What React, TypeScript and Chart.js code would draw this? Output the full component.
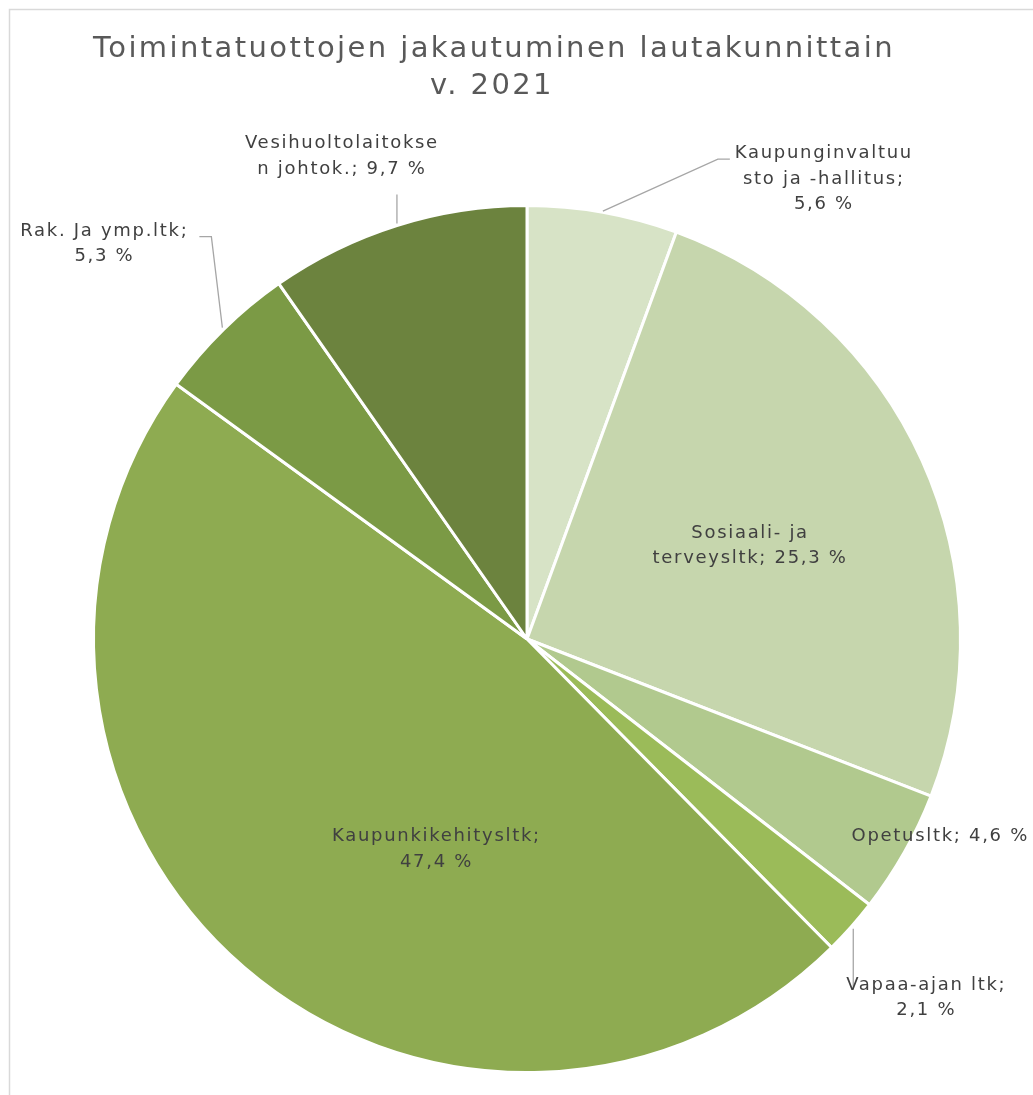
import React, { useEffect, useRef } from "react";
import { Chart, registerables } from "chart.js";

Chart.register(...registerables);

const TITLE_LINES = ["Toimintatuottojen jakautuminen lautakunnittain", "v. 2021"];
const CATEGORIES = [
  "Kaupunginvaltuusto ja -hallitus",
  "Sosiaali- ja terveysltk",
  "Opetusltk",
  "Vapaa-ajan ltk",
  "Kaupunkikehitysltk",
  "Rak. Ja ymp.ltk",
  "Vesihuoltolaitoksen johtok.",
];
const LABEL_LINES = [
  ["Kaupunginvaltuu", "sto ja -hallitus;", "5,6 %"],
  ["Sosiaali- ja", "terveysltk; 25,3 %"],
  ["Opetusltk; 4,6 %"],
  ["Vapaa-ajan ltk;", "2,1 %"],
  ["Kaupunkikehitysltk;", "47,4 %"],
  ["Rak. Ja ymp.ltk;", "5,3 %"],
  ["Vesihuoltolaitokse", "n johtok.; 9,7 %"],
];
const VALUES = [5.6, 25.3, 4.6, 2.1, 47.4, 5.3, 9.7];
const COLORS = ["#d7e3c6", "#c6d6ad", "#b1c98e", "#9bbb59", "#8eab51", "#7b9a45", "#6c833e"];

// label placement: anchor fraction of radius along mid-angle, text offset, leader polyline (relative to anchor)
type Place = { f: number; dx: number; dy: number; leader?: [number, number][] };
const PLACES: Place[] = [
  { f: 1, dx: 221, dy: -33, leader: [[0, -1], [115, -53], [127, -53]] },
  { f: 0.6, dx: -14, dy: 14 },
  { f: 1, dx: 36, dy: -16 },
  { f: 1, dx: 75, dy: 71, leader: [[2, 2], [2, 62]] },
  { f: 0.6, dx: 79, dy: 13 },
  { f: 1, dx: -119, dy: -86, leader: [[-1, -2], [-12, -93], [-24, -93]] },
  { f: 1, dx: -55, dy: -69, leader: [[0, -2], [0, -31]] },
];

const FONT = '"DejaVu Sans", Verdana, sans-serif';

const framePlugin = {
  id: "frame",
  beforeDraw(chart: any) {
    const ctx = chart.ctx;
    ctx.save();
    ctx.fillStyle = "#ffffff";
    ctx.fillRect(0, 0, chart.width, chart.height);
    ctx.strokeStyle = "#d9d9d9";
    ctx.lineWidth = 1.5;
    ctx.beginPath();
    ctx.moveTo(9.5, chart.height + 5);
    ctx.lineTo(9.5, 9.5);
    ctx.lineTo(chart.width + 5, 9.5);
    ctx.stroke();
    ctx.restore();
  },
};

const labelPlugin = {
  id: "sliceLabels",
  afterDraw(chart: any) {
    const ctx = chart.ctx;
    ctx.save();
    // title
    ctx.fillStyle = "#595959";
    ctx.font = `29px ${FONT}`;
    (ctx as any).letterSpacing = "2.4px";
    ctx.textAlign = "center";
    ctx.textBaseline = "middle";
    ctx.fillText(TITLE_LINES[0], 494, 49);
    ctx.fillText(TITLE_LINES[1], 492, 86);

    const meta = chart.getDatasetMeta(0);
    meta.data.forEach((arc: any, i: number) => {
      const { x, y, startAngle, endAngle, outerRadius } = arc.getProps(
        ["x", "y", "startAngle", "endAngle", "outerRadius"],
        true
      );
      const mid = (startAngle + endAngle) / 2;
      const p = PLACES[i];
      const ax = x + Math.cos(mid) * outerRadius * p.f;
      const ay = y + Math.sin(mid) * outerRadius * p.f;
      if (p.leader) {
        ctx.strokeStyle = "#a6a6a6";
        ctx.lineWidth = 1.3;
        ctx.beginPath();
        p.leader.forEach(([lx, ly], k) => {
          if (k === 0) ctx.moveTo(ax + lx, ay + ly);
          else ctx.lineTo(ax + lx, ay + ly);
        });
        ctx.stroke();
      }
      const lines = LABEL_LINES[i];
      const lh = 25.5;
      const cx = ax + p.dx;
      const cy = ay + p.dy;
      ctx.fillStyle = "#404040";
      ctx.font = `18px ${FONT}`;
      (ctx as any).letterSpacing = "1.7px";
      lines.forEach((t, k) => {
        ctx.fillText(t, cx, cy + (k - (lines.length - 1) / 2) * lh);
      });
    });
    ctx.restore();
  },
};

export default function App() {
  const ref = useRef<HTMLCanvasElement>(null);
  useEffect(() => {
    if (!ref.current) return;
    const chart = new Chart(ref.current, {
      type: "pie",
      data: {
        labels: CATEGORIES,
        datasets: [
          {
            data: VALUES,
            backgroundColor: COLORS,
            borderColor: "#ffffff",
            borderWidth: 3,
          },
        ],
      },
      options: {
        responsive: false,
        animation: false,
        layout: { padding: { left: 92, right: 71, top: 204, bottom: 21 } },
        plugins: {
          legend: { display: false },
          tooltip: { enabled: false },
          title: { display: false },
        },
      },
      plugins: [framePlugin, labelPlugin],
    });
    return () => chart.destroy();
  }, []);
  return (
    <div style={{ position: "fixed", left: 0, top: 0, width: 1033, height: 1095, overflow: "hidden", background: "#fff" }}>
      <canvas ref={ref} width={1033} height={1095} style={{ display: "block" }} />
    </div>
  );
}
